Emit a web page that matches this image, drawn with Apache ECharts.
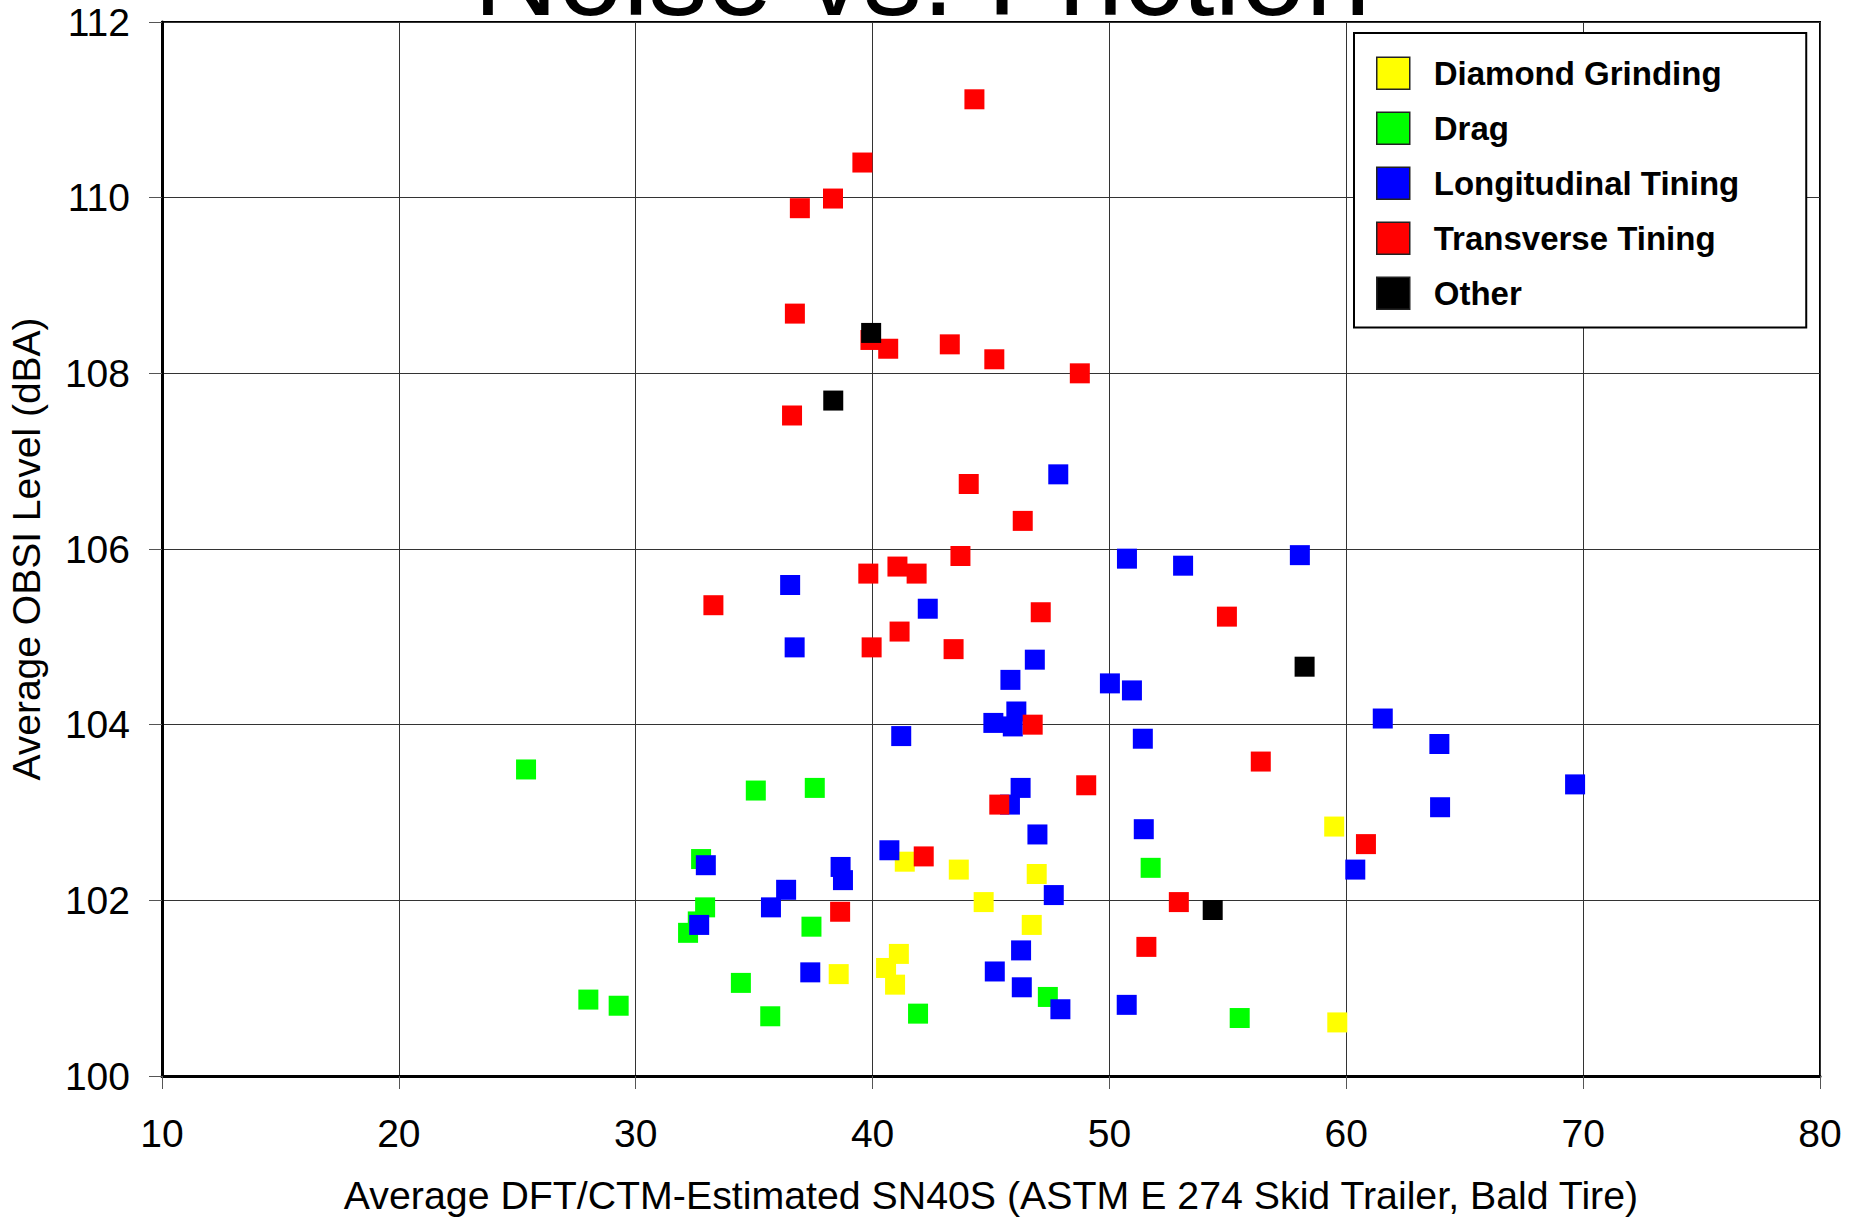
<!DOCTYPE html>
<html>
<head>
<meta charset="utf-8">
<script src="https://cdn.jsdelivr.net/npm/echarts@6/dist/echarts.min.js"></script>
<style>
html,body{margin:0;padding:0;background:#fff;}
#chart{width:1854px;height:1219px;}
</style>
</head>
<body>
<div id="chart"></div>
<script>
// ---- Data (x = Average DFT/CTM-Estimated SN40S, y = Average OBSI Level dBA) ----
var seriesNames = ['Diamond Grinding', 'Drag', 'Longitudinal Tining', 'Transverse Tining', 'Other'];
var seriesColors = ['#FFFF00', '#00FF00', '#0000FF', '#FF0000', '#000000'];

var diamondGrinding = [
  [38.57,101.16],[40.57,101.23],[40.95,101.04],[41.11,101.39],[41.36,102.44],
  [43.64,102.35],[44.69,101.98],[46.72,101.72],[46.93,102.30],[59.49,102.84],[59.62,100.61]
];
var drag = [
  [25.37,103.49],[35.07,103.25],[37.56,103.28],[32.76,102.47],[32.93,101.92],
  [32.62,101.76],[32.21,101.63],[37.42,101.70],[34.44,101.06],[28.00,100.87],
  [29.28,100.80],[35.68,100.68],[41.92,100.71],[47.40,100.90],[51.74,102.37],[55.50,100.66]
];
var longitudinalTining = [
  [47.84,106.85],[50.74,105.89],[53.11,105.81],[58.04,105.93],[36.52,105.59],
  [42.33,105.32],[36.71,104.88],[46.85,104.74],[45.82,104.51],[50.02,104.47],
  [50.95,104.39],[46.07,104.15],[45.10,104.02],[45.92,103.98],[61.54,104.07],
  [41.21,103.87],[51.41,103.84],[63.93,103.78],[69.66,103.32],[46.25,103.28],
  [45.80,103.09],[63.96,103.06],[51.45,102.81],[46.96,102.75],[40.71,102.57],
  [32.96,102.40],[38.65,102.38],[38.75,102.23],[60.38,102.35],[36.35,102.12],
  [47.65,102.06],[35.71,101.92],[32.68,101.72],[46.27,101.43],[37.37,101.18],
  [45.16,101.19],[46.30,101.01],[47.93,100.76],[50.73,100.81]
];
var transverseTining = [
  [44.30,111.12],[39.57,110.40],[38.33,109.99],[36.93,109.88],[36.72,108.68],
  [39.91,108.38],[40.66,108.28],[43.26,108.33],[45.14,108.16],[48.75,108.00],
  [36.60,107.52],[44.06,106.74],[46.34,106.32],[43.71,105.92],[41.05,105.80],
  [41.86,105.72],[39.82,105.72],[33.28,105.36],[47.10,105.28],[54.96,105.23],
  [41.14,105.06],[39.96,104.88],[43.42,104.86],[46.76,104.00],[56.39,103.58],
  [49.02,103.31],[45.35,103.09],[60.83,102.64],[42.16,102.50],[52.93,101.98],
  [38.63,101.87],[51.56,101.47]
];
var other = [
  [39.94,108.46],[38.34,107.69],[58.24,104.66],[54.36,101.89]
];
var allSeriesData = [diamondGrinding, drag, longitudinalTining, transverseTining, other];

var titleText = 'Noise vs. Friction';
var xAxisName = 'Average DFT/CTM-Estimated SN40S (ASTM E 274 Skid Trailer, Bald Tire)';
var yAxisName = 'Average OBSI Level (dBA)';
var xRange = {min: 10, max: 80, interval: 10};
var yRange = {min: 100, max: 112, interval: 2};

var FONT = '"Liberation Sans", Arial, sans-serif';

var chart = echarts.init(document.getElementById('chart'), null, {renderer: 'svg'});

var series = seriesNames.map(function (name, i) {
  return {
    name: name,
    type: 'scatter',
    symbol: 'rect',
    symbolSize: 20,
    data: allSeriesData[i],
    itemStyle: {color: seriesColors[i], opacity: 1},
    emphasis: {disabled: true},
    z: 2 + i
  };
});

chart.setOption({
  animation: false,
  backgroundColor: '#ffffff',
  grid: {
    left: 162, right: 34, top: 22, bottom: 143,
    containLabel: false,
    outerBoundsMode: 'none',
    show: true, borderColor: '#000', borderWidth: 2, backgroundColor: 'transparent'
  },
  graphic: [{
    type: 'text',
    x: 922, y: -26,
    silent: true,
    style: {
      text: titleText,
      font: '117px ' + FONT,
      fill: '#000',
      align: 'center', verticalAlign: 'middle',
      textAlign: 'center', textVerticalAlign: 'middle'
    }
  }],
  legend: {
    orient: 'vertical',
    left: 1354, top: 33,
    padding: [23.5, 67, 17.5, 22],
    itemWidth: 33, itemHeight: 32, itemGap: 21.5,
    icon: 'rect',
    backgroundColor: '#fff',
    borderColor: '#000', borderWidth: 2,
    itemStyle: {borderColor: '#222', borderWidth: 1.5},
    textStyle: {fontFamily: FONT, fontWeight: 'bold', fontSize: 33, color: '#000', padding: [0, 0, 0, 19]},
    data: seriesNames,
    selectedMode: false
  },
  xAxis: {
    type: 'value',
    min: xRange.min, max: xRange.max, interval: xRange.interval,
    name: xAxisName,
    nameLocation: 'middle',
    nameGap: 99,
    nameTextStyle: {fontFamily: FONT, fontSize: 39.3, color: '#000'},
    axisLine: {show: true, onZero: false, lineStyle: {color: '#000', width: 3}},
    axisTick: {show: true, inside: false, length: 13, lineStyle: {color: '#555', width: 1}},
    axisLabel: {fontFamily: FONT, fontSize: 39, color: '#000', margin: 38},
    splitLine: {show: true, lineStyle: {color: '#333', width: 1}}
  },
  yAxis: {
    type: 'value',
    min: yRange.min, max: yRange.max, interval: yRange.interval,
    name: yAxisName,
    nameLocation: 'middle',
    nameGap: 116,
    nameTextStyle: {fontFamily: FONT, fontSize: 39, color: '#000'},
    axisLine: {show: true, onZero: false, lineStyle: {color: '#000', width: 3}},
    axisTick: {show: true, inside: false, length: 13, lineStyle: {color: '#555', width: 1}},
    axisLabel: {fontFamily: FONT, fontSize: 39, color: '#000', margin: 32},
    splitLine: {show: true, lineStyle: {color: '#333', width: 1}}
  },
  series: series
});
</script>
</body>
</html>
